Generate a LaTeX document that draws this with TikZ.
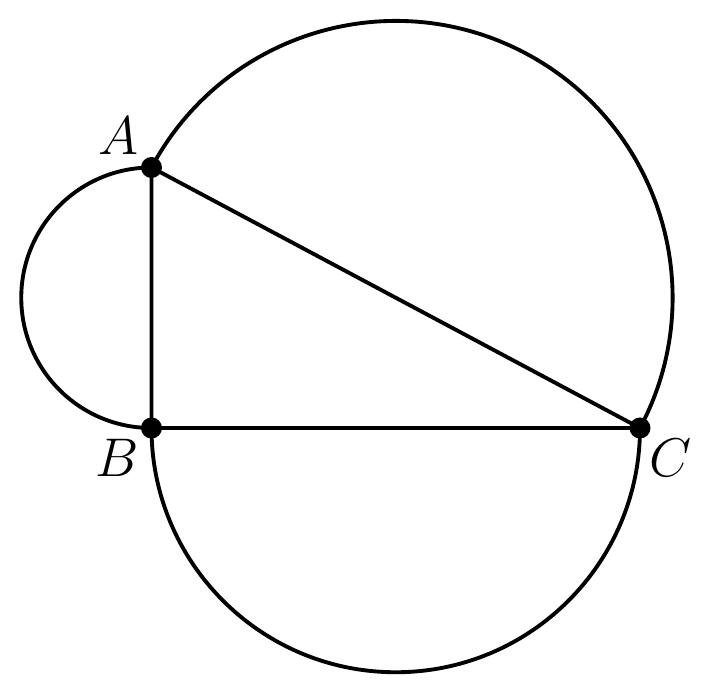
\documentclass[tikz,border=0pt]{standalone}
\usepackage{fix-cm}
\usepackage{amsmath}
\usepackage{tikz}

\begin{document}
\begin{tikzpicture}[line width=2.2pt,
  dot/.style={circle,fill=black,inner sep=0pt,minimum size=0.42cm},
  lbl/.style={font=\fontsize{31}{31}\selectfont}]
\useasboundingbox (0,0) rectangle (14.42,13.88);
\node[dot] (A) at (3.03,10.53) {};
\node[dot] (B) at (3.03,5.32) {};
\node[dot] (C) at (12.80,5.32) {};
\node[lbl] (la) at ([shift={(-0.66,0.64)}]A) {$A$};
\node[lbl] (lb) at ([shift={(-0.69,-0.59)}]B) {$B$};
\node[lbl] (lc) at ([shift={(0.62,-0.59)}]C) {$C$};
\draw (A.center) -- (B.center) -- (C.center) -- cycle;
\draw (A.center) arc[start angle=90,end angle=270,radius=2.605];
\draw (B.center) arc[start angle=180,end angle=360,radius=4.885];
\draw (C.center) arc[start angle=-28.07,end angle=151.93,radius=5.536];
\end{tikzpicture}
\end{document}
